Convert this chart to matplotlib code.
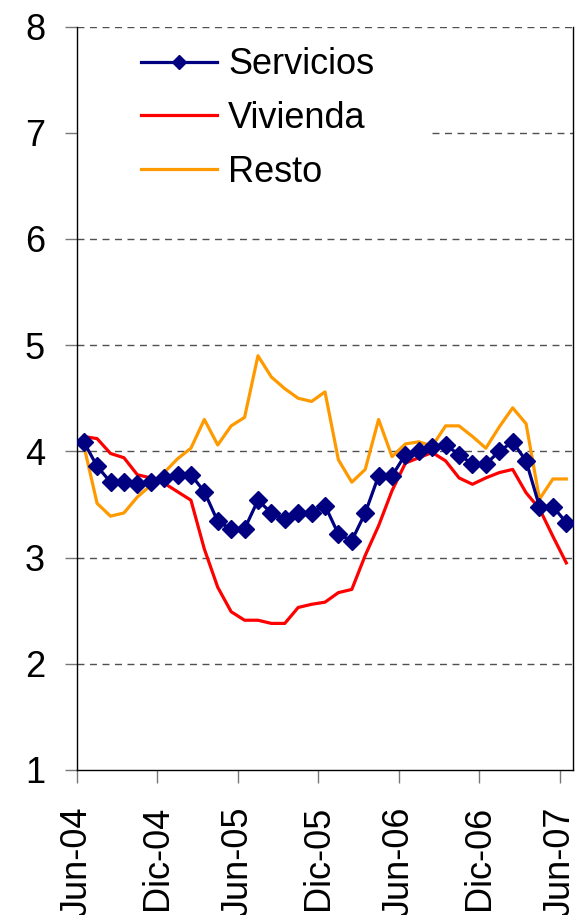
import matplotlib
matplotlib.use("Agg")
import matplotlib.pyplot as plt
import numpy as np

plt.rcParams["font.family"] = ["Liberation Sans", "DejaVu Sans"]

# monthly values Jun-04 .. Jun-07 (37 months)
servicios = [4.09, 3.86, 3.71, 3.71, 3.69, 3.71, 3.75, 3.78, 3.78, 3.62, 3.34, 3.27, 3.27,
             3.54, 3.42, 3.36, 3.42, 3.42, 3.49, 3.22, 3.16, 3.42, 3.77, 3.77, 3.97, 4.00,
             4.04, 4.06, 3.97, 3.88, 3.88, 4.00, 4.09, 3.91, 3.48, 3.48, 3.33]
vivienda = [4.14, 4.12, 3.98, 3.94, 3.78, 3.75, 3.70, 3.62, 3.54, 3.08, 2.72, 2.49, 2.41,
            2.41, 2.38, 2.38, 2.53, 2.56, 2.58, 2.67, 2.70, 3.02, 3.30, 3.63, 3.89, 3.94,
            3.99, 3.91, 3.75, 3.69, 3.75, 3.80, 3.83, 3.61, 3.46, 3.20, 2.95]
resto = [4.06, 3.51, 3.39, 3.42, 3.57, 3.68, 3.80, 3.93, 4.03, 4.30, 4.06, 4.24, 4.32,
         4.90, 4.70, 4.59, 4.50, 4.47, 4.56, 3.92, 3.71, 3.83, 4.30, 3.95, 4.07, 4.09,
         4.05, 4.24, 4.24, 4.14, 4.03, 4.23, 4.41, 4.26, 3.55, 3.74, 3.74]
tick_labels = ["Jun-04", "Dic-04", "Jun-05", "Dic-05", "Jun-06", "Dic-06", "Jun-07"]

x = np.arange(len(servicios)) + 0.5  # points centred in month categories

fig = plt.figure(figsize=(5.86, 9.15), dpi=100)
ax = fig.add_axes([0.1314, 0.1585, 0.8464, 0.8125])

# dashed gridlines (the one at 7 is hidden behind the legend)
for yv in [2, 3, 4, 5, 6, 8]:
    ax.axhline(yv, color="#505050", ls=(0, (5, 4)), lw=1.0, zorder=1)
ax.axhline(7, xmin=0.716, color="#505050", ls=(0, (5, 4)), lw=1.0, zorder=1)

ax.plot(x, servicios, color="#000080", lw=2.3, marker="D", ms=9.5, label="Servicios", zorder=4)
ax.plot(x, vivienda, color="#ff0000", lw=2.3, label="Vivienda", zorder=3)
ax.plot(x, resto, color="#ff9900", lw=2.3, label="Resto", zorder=2)

ax.set_xlim(0, len(servicios))
ax.set_ylim(1, 8)
ax.set_yticks(range(1, 9))
ax.set_xticks(np.arange(0, len(servicios), 6))
ax.set_xticklabels(tick_labels, rotation=90, fontsize=26)
ax.tick_params(axis="y", labelsize=26, length=9, width=1, color="#777777", pad=14)
ax.tick_params(axis="x", length=9, width=1, color="#777777", pad=17)

ax.spines["top"].set_visible(False)
for s in ["left", "right", "bottom"]:
    ax.spines[s].set_color("black")
    ax.spines[s].set_linewidth(1.0)

leg = ax.legend(loc="upper left", bbox_to_anchor=(0.13, 0.972), frameon=False, fontsize=26,
                handlelength=2.1, handletextpad=0.3, labelspacing=0.52, borderpad=0,
                borderaxespad=0, markerscale=0.75)

fig.savefig("out.png", dpi=100)
